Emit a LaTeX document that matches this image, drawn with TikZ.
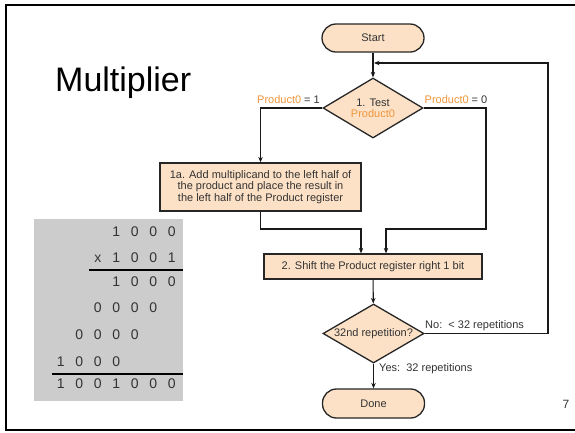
\documentclass[tikz,border=0pt]{standalone}
\usepackage{fontspec}
\setmainfont{Liberation Sans}
\usetikzlibrary{shapes.geometric,arrows.meta}
\definecolor{peach}{HTML}{FCE1C6}
\definecolor{labelorange}{HTML}{F0963C}
\definecolor{ink}{HTML}{333333}
\definecolor{panelgrey}{HTML}{CCCCCC}
% one digit column of the worked multiplication
\newcommand\dg[1]{\makebox[18.5pt]{#1}}
\tikzset{
  flow/.style={draw=black!85, line width=1.3pt, fill=peach, text=ink,
    font=\fontsize{11}{11.5}\selectfont, inner sep=0pt},
  terminal/.style={flow, rectangle, rounded corners=14pt,
    minimum width=102pt, minimum height=28pt},
  process/.style={flow, rectangle, align=center},
  decision/.style={flow, diamond, aspect=1.67, align=center},
  link/.style={draw=black!90, line width=1.1pt, -{Stealth[length=5.5pt,width=4.5pt]}},
  lbl/.style={text=ink, font=\fontsize{11}{13}\selectfont, inner sep=0pt},
  digits/.style={font=\fontsize{14}{14}\selectfont, text=ink, anchor=east, inner sep=0pt},
  rule/.style={draw=black, line width=1.3pt},
}
\begin{document}
\begin{tikzpicture}[x=1pt,y=-1pt]
\useasboundingbox (0,0) rectangle (575,432);
\fill[white] (0,0) rectangle (575,432);

% slide frame
\draw[line width=2.5pt] (576,5) -- (6,5) -- (6,430) -- (576,430);

% title
\node[font=\fontsize{34}{34}\selectfont, anchor=base west, inner sep=0pt] (title) at (55,91) {Multiplier};

% worked example
\node[fill=panelgrey, minimum width=149pt, minimum height=182pt, inner sep=0pt,
      anchor=north west] (panel) at (34,219) {};
\node[digits] (r1) at (181.25,232) {\dg1\dg0\dg0\dg0};
\node[digits] (r2) at (181.25,258) {\dg x\dg1\dg0\dg0\dg1};
\node[digits] (r3) at (181.25,282) {\dg1\dg0\dg0\dg0};
\node[digits] (r4) at (181.25,308) {\dg0\dg0\dg0\dg0\dg{}};
\node[digits] (r5) at (181.25,335) {\dg0\dg0\dg0\dg0\dg{}\dg{}};
\node[digits] (r6) at (181.25,362) {\dg1\dg0\dg0\dg0\dg{}\dg{}\dg{}};
\node[digits] (r7) at (181.25,384) {\dg1\dg0\dg0\dg1\dg0\dg0\dg0};
\draw[rule] (89,270) -- (183,270);
\draw[rule] (52,374) -- (183,374);

% flowchart
\node[terminal] (start) at (373,38) {Start};
\node[decision, minimum width=100pt, minimum height=60pt] (test) at (373,108)
  {1. Test\\[-0.5pt]\textcolor{labelorange}{Product0}};
\node[process, minimum width=201pt, minimum height=48pt] (add) at (260.5,187)
  {1a. Add multiplicand to the left half of\\the product and place the result in\\the left half of the Product register};
\node[process, minimum width=218pt, minimum height=25pt] (shift) at (373,266.5)
  {2. Shift the Product register right 1 bit};
\node[decision, minimum width=101pt, minimum height=59pt] (check) at (373.5,333.5)
  {32nd repetition?};
\node[terminal, minimum height=29pt] (done) at (373.5,403.5) {Done};

% branch labels
\node[lbl] (p1) at (288.5,100) {\textcolor{labelorange}{Product0} = 1};
\node[lbl] (p0) at (456,100) {\textcolor{labelorange}{Product0} = 0};
\node[lbl, anchor=west] (nolbl) at (425,326) {No:\ \ < 32 repetitions};
\node[lbl, anchor=west] (yeslbl) at (379,369) {Yes:\ \ 32 repetitions};
\node[lbl, font=\fontsize{12}{14}\selectfont] (page) at (566,404) {7};

% routing helpers
\coordinate (merge) at (0,229);
\coordinate (rcol) at (486,0);
\coordinate (loopx) at (548,0);
\coordinate (loopy) at (0,63);
\coordinate (inL) at ([xshift=-12pt]shift.north);
\coordinate (inR) at ([xshift=13pt]shift.north);

% connectors
\draw[link] (start) -- (test);
\draw[link] (test.west) -| (add.north);
\draw[link] (test.east) -| (rcol |- merge) -| (inR);
\draw[link] (add.south) -- (add.south |- merge) -| (inL);
\draw[link] (shift) -- (check);
\draw[link] (check.east) -| (loopx |- loopy) -- ([xshift=1pt]start.south |- loopy);
\draw[link] (check) -- (done);
\end{tikzpicture}
\end{document}
